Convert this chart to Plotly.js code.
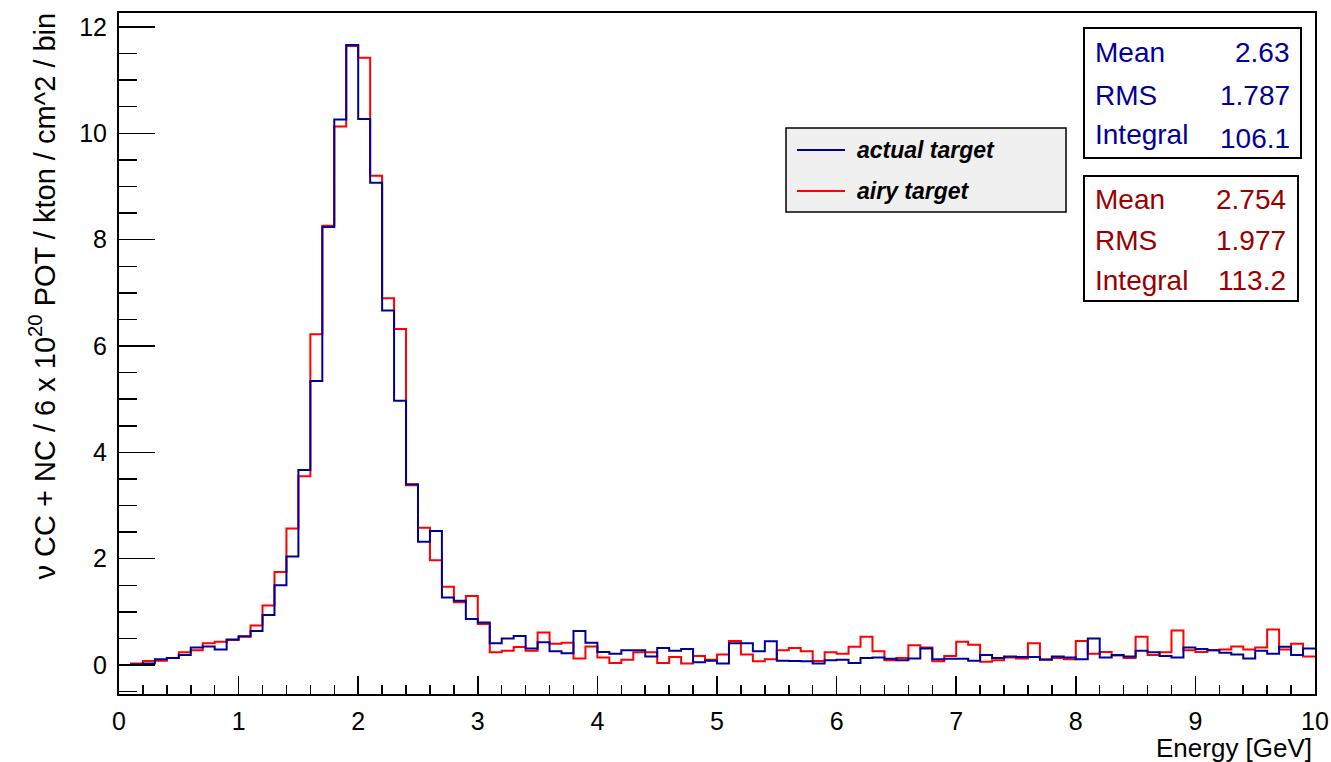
<!DOCTYPE html>
<html>
<head>
<meta charset="utf-8">
<script src="https://cdn.plot.ly/plotly-3.0.1.min.js"></script>
<style>
  html, body { margin: 0; padding: 0; background: #ffffff; }
  #chart { width: 1331px; height: 762px; }
</style>
</head>
<body>
<div id="chart"></div>
<script>
// ---------------- data (100 bins, 0 - 10 GeV, width 0.1 GeV) ----------------
const binWidth = 0.1;
const nBins = 100;

const actualTarget = [
  0.00, 0.01, 0.03, 0.11, 0.13, 0.19, 0.33, 0.35, 0.29, 0.48,
  0.54, 0.64, 0.94, 1.50, 2.04, 3.67, 5.34, 8.24, 10.26, 11.66,
  10.27, 9.07, 6.67, 4.97, 3.40, 2.32, 2.52, 1.27, 1.21, 0.865,
  0.80, 0.41, 0.50, 0.545, 0.31, 0.43, 0.26, 0.22, 0.64, 0.42,
  0.245, 0.21, 0.28, 0.28, 0.16, 0.32, 0.27, 0.30, 0.05, 0.08,
  0.03, 0.41, 0.41, 0.26, 0.445, 0.08, 0.075, 0.07, 0.03, 0.09,
  0.10, 0.04, 0.13, 0.14, 0.12, 0.09, 0.125, 0.31, 0.11, 0.12,
  0.12, 0.08, 0.19, 0.13, 0.16, 0.15, 0.15, 0.10, 0.16, 0.14,
  0.11, 0.50, 0.14, 0.19, 0.16, 0.27, 0.24, 0.17, 0.14, 0.33,
  0.30, 0.28, 0.23, 0.20, 0.125, 0.27, 0.21, 0.345, 0.19, 0.31
];

const airyTarget = [
  0.00, 0.03, 0.075, 0.08, 0.13, 0.24, 0.28, 0.41, 0.44, 0.47,
  0.53, 0.745, 1.12, 1.75, 2.57, 3.55, 6.22, 8.26, 10.13, 11.64,
  11.42, 9.20, 6.90, 6.32, 3.38, 2.58, 1.97, 1.47, 1.18, 1.30,
  0.77, 0.24, 0.27, 0.34, 0.27, 0.61, 0.40, 0.42, 0.125, 0.35,
  0.14, 0.04, 0.10, 0.24, 0.24, 0.04, 0.15, 0.03, 0.17, 0.10,
  0.20, 0.45, 0.20, 0.07, 0.11, 0.28, 0.32, 0.26, 0.075, 0.24,
  0.21, 0.345, 0.53, 0.26, 0.09, 0.13, 0.37, 0.33, 0.07, 0.17,
  0.44, 0.38, 0.06, 0.09, 0.14, 0.125, 0.41, 0.11, 0.13, 0.11,
  0.45, 0.21, 0.245, 0.18, 0.13, 0.53, 0.19, 0.24, 0.65, 0.28,
  0.245, 0.28, 0.29, 0.35, 0.29, 0.33, 0.67, 0.29, 0.40, 0.16
];

const seriesNames = ["actual target", "airy target"];
const statLabels = ["Mean", "RMS", "Integral"];
const actualStats = ["2.63", "1.787", "106.1"];
const airyStats = ["2.754", "1.977", "113.2"];

const xTickVals = [0, 1, 2, 3, 4, 5, 6, 7, 8, 9, 10];
const yTickVals = [0, 2, 4, 6, 8, 10, 12];

const xTitle = "Energy [GeV]";
const yTitle = "ν CC + NC / 6 x 10<sup>20</sup> POT / kton / cm^2 / bin";

// ---------------- geometry helpers ----------------
const W = 1331, H = 762, ML = 119, MR = 16, MT = 13, MB = 68;
const PW = W - ML - MR, PH = H - MT - MB;
const px = x => (x - ML) / PW;          // pixel x -> paper
const py = y => (H - MB - y) / PH;      // pixel y -> paper

const FONT = "Liberation Sans, Arial, Helvetica, sans-serif";
const BLUE = "#000099", RED = "#ff0000", BLUE_TXT = "#000099", RED_TXT = "#990000";

// bin edges built from bin count/width
const edges = [];
for (let i = 0; i <= nBins; i++) edges.push(+(i * binWidth).toFixed(2));
const stepY = arr => arr.concat([arr[arr.length - 1]]);

const traces = [
  { type: "scatter", mode: "lines", name: seriesNames[1], x: edges, y: stepY(airyTarget),
    line: { color: RED, width: 2, shape: "hv" }, hoverinfo: "skip" },
  { type: "scatter", mode: "lines", name: seriesNames[0], x: edges, y: stepY(actualTarget),
    line: { color: BLUE, width: 2, shape: "hv" }, hoverinfo: "skip" }
];

// ---------------- decorations: legend + stat boxes ----------------
const shapes = [];
const annotations = [];

// legend box
shapes.push({ type: "rect", xref: "paper", yref: "paper", x0: px(786), x1: px(1066), y0: py(212), y1: py(128),
  fillcolor: "#f0f0f0", line: { color: "#000000", width: 1.5 } });
const legRows = [{ y: 150, c: BLUE, t: seriesNames[0] }, { y: 191, c: RED, t: seriesNames[1] }];
legRows.forEach(r => {
  shapes.push({ type: "line", xref: "paper", yref: "paper", x0: px(797), x1: px(845), y0: py(r.y), y1: py(r.y),
    line: { color: r.c, width: 2 } });
  annotations.push({ xref: "paper", yref: "paper", x: px(855), y: py(r.y), xanchor: "left", yanchor: "middle",
    showarrow: false, text: "<b><i>" + r.t + "</i></b>", font: { family: FONT, size: 23, color: "#000000" } });
});

// stat boxes
function statBox(x0, x1, y0, y1, rows, vals, color, valRight, lastShift) {
  shapes.push({ type: "rect", xref: "paper", yref: "paper", x0: px(x0), x1: px(x1), y0: py(y1), y1: py(y0),
    fillcolor: "#ffffff", line: { color: "#000000", width: 2 } });
  rows.forEach((ry, i) => {
    annotations.push({ xref: "paper", yref: "paper", x: px(x0 + 9), y: py(ry), xanchor: "left", yanchor: "middle",
      showarrow: false, text: statLabels[i], font: { family: FONT, size: 28, color: color } });
    annotations.push({ xref: "paper", yref: "paper", x: px(valRight), y: py(ry + (i === 2 ? lastShift : 0)), xanchor: "right", yanchor: "middle",
      showarrow: false, text: vals[i], font: { family: FONT, size: 28, color: color } });
  });
}
statBox(1084, 1301, 28, 158, [52, 96, 134], actualStats, BLUE_TXT, 1292, 4);
statBox(1084, 1298, 176, 301, [199, 240, 280], airyStats, RED_TXT, 1288, 0);

// axis titles
annotations.push({ xref: "paper", yref: "paper", x: px(1314), y: py(748), xanchor: "right", yanchor: "middle",
  showarrow: false, text: xTitle, font: { family: FONT, size: 26, color: "#000000" } });
annotations.push({ xref: "paper", yref: "paper", x: px(42), y: py(11), xanchor: "center", yanchor: "top", textangle: -90,
  showarrow: false, text: yTitle, font: { family: FONT, size: 29, color: "#000000" } });

const layout = {
  width: W, height: H,
  margin: { l: ML, r: MR, t: MT, b: MB, pad: 0 },
  paper_bgcolor: "#ffffff", plot_bgcolor: "#ffffff",
  showlegend: false,
  font: { family: FONT, size: 25, color: "#000000" },
  xaxis: {
    range: [0, 10], tickvals: xTickVals, ticktext: xTickVals.map(String),
    showline: true, linecolor: "#000000", linewidth: 2, mirror: true,
    ticks: "inside", ticklen: 18, tickwidth: 1.5, tickcolor: "#000000",
    minor: { dtick: 0.2, tick0: 0, ticks: "inside", ticklen: 9, tickwidth: 1.5, tickcolor: "#000000", showgrid: false },
    showgrid: false, zeroline: false, ticklabelstandoff: 4,
    tickfont: { family: FONT, size: 25, color: "#000000" }
  },
  yaxis: {
    range: [-0.545, 12.263], tickvals: yTickVals, ticktext: yTickVals.map(String),
    showline: true, linecolor: "#000000", linewidth: 2, mirror: true,
    ticks: "inside", ticklen: 36, tickwidth: 1.5, tickcolor: "#000000",
    minor: { dtick: 0.5, tick0: 0, ticks: "inside", ticklen: 18, tickwidth: 1.5, tickcolor: "#000000", showgrid: false },
    showgrid: false, zeroline: false, ticklabelstandoff: 5,
    tickfont: { family: FONT, size: 25, color: "#000000" }
  },
  shapes: shapes,
  annotations: annotations
};

Plotly.newPlot("chart", traces, layout, { displayModeBar: false, staticPlot: true });
</script>
</body>
</html>
